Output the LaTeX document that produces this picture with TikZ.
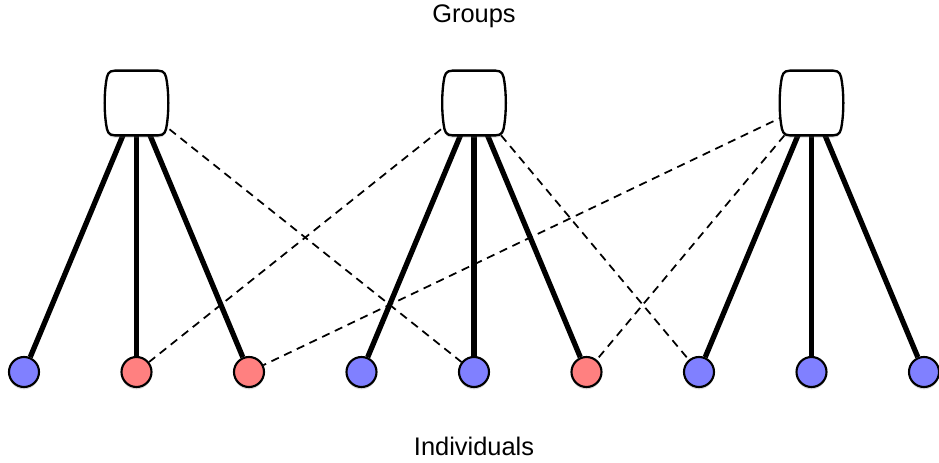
\documentclass[tikz,border=0pt]{standalone}
\usepackage{fontspec}
\setmainfont{Liberation Sans}
\usepackage{tikz}
\usetikzlibrary{positioning, shadows}
\definecolor{indblue}{RGB}{128,128,255}
\definecolor{indred}{RGB}{255,128,128}
\tikzset{%
  member/.style={draw, line width=4.5pt}, % solid lines, group to its members
  guest/.style={draw, line width=1.5pt, dash pattern=on 7pt off 5pt},
  softshadow/.style={drop shadow={opacity=0.3, shadow xshift=0pt, shadow yshift=-0.07cm}},
  ind/.style={circle, draw, line width=1.8pt, minimum size=0.9cm, inner sep=0pt, softshadow},
  grp/.style={minimum width=1.9cm, minimum height=1.95cm, inner sep=0pt},
  grouprim/.style={draw, fill=white, line width=2pt, softshadow},
  heading/.style={font=\fontsize{21.7}{24}\selectfont, inner sep=0pt}
}

\begin{document}
\begin{tikzpicture}[node distance=3.375cm, on grid]
\useasboundingbox (0,0) rectangle (28.17,-13.89);

\node[ind, fill=indblue] (i1) at (0.72,-11.16) {};
\node[ind, fill=indred, right=of i1] (i2) {};
\node[ind, fill=indred, right=of i2] (i3) {};
\node[ind, fill=indblue, right=of i3] (i4) {};
\node[ind, fill=indblue, right=of i4] (i5) {};
\node[ind, fill=indred, right=of i5] (i6) {};
\node[ind, fill=indblue, right=of i6] (i7) {};
\node[ind, fill=indblue, right=of i7] (i8) {};
\node[ind, fill=indblue, right=of i8] (i9) {};

\node[grp, above=8.07cm of i2] (g1) {};
\node[grp, above=8.07cm of i5] (g2) {};
\node[grp, above=8.07cm of i8] (g3) {};

\node[heading, above=2.4cm of g2, anchor=base] (groups) {Groups};
\node[heading, below=2.49cm of i5, anchor=base] (individuals) {Individuals};

\draw[member] (g1.center) -- (i1);
\draw[member] (g1.center) -- (i2);
\draw[member] (g1.center) -- (i3);
\draw[member] (g2.center) -- (i4);
\draw[member] (g2.center) -- (i5);
\draw[member] (g2.center) -- (i6);
\draw[member] (g3.center) -- (i7);
\draw[member] (g3.center) -- (i8);
\draw[member] (g3.center) -- (i9);

\draw[guest] (g1.center) -- (i5);
\draw[guest] (g2.center) -- (i2);
\draw[guest] (g2.center) -- (i7);
\draw[guest] (g3.center) -- (i3);
\draw[guest] (g3.center) -- (i6);

% the group boxes, sides slightly bulged
\foreach \g in {g1, g2, g3}
  \draw[grouprim, shift={(\g.center)}] (-0.65,0.97) -- (0.65,0.97)
    .. controls (0.85,0.97) and (0.88,0.85) .. (0.91,0.65)
    .. controls (0.97,0.25) and (0.97,-0.25) .. (0.91,-0.65)
    .. controls (0.88,-0.85) and (0.85,-0.97) .. (0.65,-0.97)
    -- (-0.65,-0.97)
    .. controls (-0.85,-0.97) and (-0.88,-0.85) .. (-0.91,-0.65)
    .. controls (-0.97,-0.25) and (-0.97,0.25) .. (-0.91,0.65)
    .. controls (-0.88,0.85) and (-0.85,0.97) .. cycle;
\end{tikzpicture}
\end{document}
